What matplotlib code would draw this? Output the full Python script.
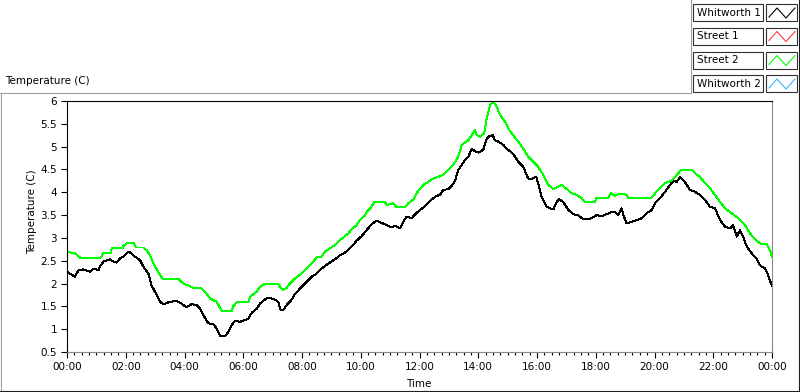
import numpy as np
import matplotlib.pyplot as plt
from matplotlib.patches import Rectangle
from matplotlib.ticker import MultipleLocator, FixedLocator, FixedFormatter, FormatStrFormatter

plt.rcParams['font.family'] = 'DejaVu Sans'

# legend entries
series_names = ['Whitworth 1', 'Street 1', 'Street 2', 'Whitworth 2']
series_colors = ['#000000', '#ff3a3a', '#00ff00', '#3ab4ff']

# Whitworth 1 (black): hours since midnight, temperature (C)
whit1_t = [0.00, 0.10, 0.27, 0.39, 0.56, 0.78, 0.90, 1.07, 1.12, 1.24, 1.46, 1.58, 1.69, 1.80,
           1.92, 2.09, 2.20, 2.31, 2.49, 2.60, 2.77, 2.88, 3.05, 3.17, 3.28, 3.51, 3.73, 3.90,
           4.07, 4.24, 4.41, 4.53, 4.64, 4.81, 4.98, 5.10, 5.21, 5.38, 5.49, 5.61, 5.72, 5.89,
           6.17, 6.29, 6.46, 6.57, 6.74, 6.85, 7.08, 7.19, 7.27, 7.36, 7.48, 7.65, 7.76, 7.99,
           8.16, 8.33, 8.50, 8.67, 8.90, 9.12, 9.29, 9.52, 9.69, 9.86, 10.03, 10.20, 10.37, 10.54,
           10.71, 10.88, 11.05, 11.17, 11.34, 11.45, 11.56, 11.73, 11.85, 12.02, 12.19, 12.36,
           12.53, 12.70, 12.81, 12.98, 13.10, 13.21, 13.32, 13.44, 13.55, 13.66, 13.78, 13.89,
           14.00, 14.17, 14.29, 14.40, 14.49, 14.57, 14.68, 14.85, 14.97, 15.14, 15.25, 15.36,
           15.53, 15.70, 15.82, 15.97, 16.04, 16.16, 16.33, 16.44, 16.56, 16.67, 16.76, 16.90,
           17.07, 17.24, 17.41, 17.58, 17.70, 17.86, 18.03, 18.20, 18.37, 18.54, 18.66, 18.77,
           18.88, 18.94, 19.05, 19.22, 19.39, 19.56, 19.73, 19.90, 20.02, 20.19, 20.36, 20.53,
           20.64, 20.76, 20.87, 20.98, 21.10, 21.21, 21.38, 21.55, 21.72, 21.89, 22.06, 22.23,
           22.40, 22.57, 22.68, 22.80, 22.91, 23.02, 23.14, 23.31, 23.48, 23.59, 23.76, 23.87,
           24.00]
whit1_v = [2.26, 2.22, 2.15, 2.29, 2.31, 2.26, 2.33, 2.29, 2.37, 2.48, 2.53, 2.48, 2.46, 2.55,
           2.59, 2.70, 2.66, 2.59, 2.51, 2.37, 2.22, 1.96, 1.75, 1.60, 1.55, 1.60, 1.62, 1.56,
           1.48, 1.55, 1.53, 1.45, 1.31, 1.13, 1.11, 1.01, 0.85, 0.85, 0.94, 1.09, 1.19, 1.16,
           1.23, 1.36, 1.45, 1.56, 1.65, 1.69, 1.65, 1.60, 1.43, 1.42, 1.53, 1.65, 1.77, 1.93,
           2.04, 2.15, 2.22, 2.33, 2.44, 2.53, 2.62, 2.70, 2.81, 2.94, 3.04, 3.17, 3.30, 3.38,
           3.33, 3.28, 3.23, 3.26, 3.21, 3.36, 3.47, 3.43, 3.52, 3.61, 3.70, 3.81,
           3.90, 3.95, 4.05, 4.07, 4.14, 4.25, 4.49, 4.60, 4.71, 4.78, 4.95, 4.90,
           4.87, 4.93, 5.18, 5.24, 5.25, 5.14, 5.11, 5.04, 4.95, 4.87, 4.78, 4.67,
           4.56, 4.30, 4.29, 4.34, 4.20, 3.90, 3.68, 3.65, 3.63, 3.79, 3.85, 3.78,
           3.61, 3.52, 3.49, 3.41, 3.41, 3.43, 3.50, 3.47, 3.52, 3.57, 3.57, 3.50,
           3.65, 3.50, 3.32, 3.35, 3.39, 3.43, 3.54, 3.61, 3.76, 3.87, 4.01, 4.16,
           4.25, 4.23, 4.33, 4.27, 4.16, 4.05, 4.01, 3.94, 3.83, 3.68, 3.65, 3.39,
           3.25, 3.21, 3.28, 3.03, 3.17, 3.03, 2.81, 2.66, 2.55, 2.40, 2.33, 2.18,
           1.94]

# Street 2 (green)
street2_t = [0.00, 0.27, 0.44, 1.15, 1.24, 1.50, 1.52, 1.90, 1.92, 2.03, 2.28, 2.35, 2.60, 2.71,
             2.83, 2.94, 3.07, 3.26, 3.79, 3.96, 4.19, 4.30, 4.50, 4.59, 4.70, 4.87, 5.10, 5.27,
             5.61, 5.66, 5.78, 6.17, 6.23, 6.46, 6.57, 6.74, 7.19, 7.25, 7.36, 7.48, 7.59, 7.76,
             7.99, 8.16, 8.33, 8.50, 8.67, 8.78, 8.95, 9.12, 9.29, 9.41, 9.58, 9.69, 9.86, 9.97,
             10.14, 10.20, 10.35, 10.46, 10.83, 10.88, 11.11, 11.22, 11.51, 11.62, 11.79, 11.90,
             12.13, 12.47, 12.81, 13.15, 13.32, 13.44, 13.66, 13.78, 13.89, 13.95, 14.06, 14.20,
             14.29, 14.40, 14.51, 14.63, 14.74, 14.91, 15.02, 15.19, 15.36, 15.53, 15.70, 15.87,
             16.04, 16.21, 16.39, 16.56, 16.84, 17.01, 17.18, 17.35, 17.52, 17.63, 17.97, 18.03,
             18.43, 18.52, 18.66, 18.77, 19.05, 19.11, 19.90, 20.02, 20.19, 20.36, 20.59, 20.76,
             20.90, 21.27, 21.38, 21.55, 21.72, 21.89, 22.06, 22.23, 22.40, 22.63, 22.85, 23.08,
             23.25, 23.42, 23.59, 23.82, 23.93, 24.00]
street2_v = [2.70, 2.66, 2.57, 2.57, 2.67, 2.67, 2.77, 2.77, 2.82, 2.88, 2.88, 2.79, 2.79, 2.73,
             2.62, 2.44, 2.29, 2.10, 2.10, 2.00, 1.94, 1.91, 1.91, 1.89, 1.82, 1.67, 1.60, 1.39,
             1.39, 1.50, 1.59, 1.59, 1.71, 1.82, 1.93, 1.99, 1.99, 1.93, 1.86, 1.91, 2.00, 2.11,
             2.22, 2.33, 2.44, 2.57, 2.59, 2.70, 2.77, 2.84, 2.95, 3.01, 3.10, 3.19, 3.28, 3.39,
             3.49, 3.57, 3.67, 3.78, 3.78, 3.72, 3.76, 3.67, 3.67, 3.76, 3.84, 3.98,
             4.16, 4.30, 4.38, 4.60, 4.78, 5.04, 5.14, 5.25, 5.36, 5.25, 5.22, 5.29,
             5.62, 5.91, 5.98, 5.88, 5.69, 5.55, 5.40, 5.25, 5.11, 4.96, 4.78, 4.67,
             4.56, 4.38, 4.16, 4.07, 4.16, 4.07, 3.98, 3.94, 3.87, 3.78, 3.79, 3.88,
             3.88, 3.98, 3.92, 3.96, 3.95, 3.88, 3.88, 3.98, 4.09, 4.20, 4.26, 4.38,
             4.49, 4.49, 4.42, 4.33, 4.20, 4.09, 3.94, 3.79, 3.65, 3.54, 3.43, 3.28,
             3.10, 2.97, 2.88, 2.86, 2.73, 2.59]

hour_ticks = [0, 2, 4, 6, 8, 10, 12, 14, 16, 18, 20, 22, 24]
hour_labels = ['00:00', '02:00', '04:00', '06:00', '08:00', '10:00', '12:00',
               '14:00', '16:00', '18:00', '20:00', '22:00', '00:00']

W, H = 800, 392
fs = 7.5
fig = plt.figure(figsize=(W / 100, H / 100), dpi=100)

# pixel-coordinate overlay for frame, title and legend
bg = fig.add_axes([0, 0, 1, 1])
bg.set_xlim(0, W)
bg.set_ylim(H, 0)
bg.axis('off')
bg.plot([0, 690], [92.5, 92.5], color='#a0a0a0', lw=0.8)
bg.plot([690.5, 690.5], [0, 92.5], color='#a0a0a0', lw=0.8)
bg.plot([1, 1], [92.5, H], color='#a0a0a0', lw=0.8)
bg.plot([0, W], [390.5, 390.5], color='#202020', lw=0.8)
bg.plot([798.5, 798.5], [0, H], color='#202020', lw=0.8)
bg.text(5, 81, 'Temperature (C)', fontsize=fs, ha='left', va='center')
bg.text(32, 212, 'Temperature (C)', fontsize=fs, rotation=90, ha='center', va='center')
bg.text(419, 384, 'Time', fontsize=fs, ha='center', va='center')

row_tops = [4, 27.5, 51.5, 75]
for name, col, top in zip(series_names, series_colors, row_tops):
    bg.add_patch(Rectangle((693, top), 70, 17, facecolor='white', edgecolor='#303030', lw=0.8))
    bg.text(697, top + 8.5, name, fontsize=fs, ha='left', va='center')
    bg.add_patch(Rectangle((766, top), 31, 17, facecolor='white', edgecolor='#303030', lw=0.8))
    bg.plot([769, 777, 786, 795], [top + 13, top + 4, top + 14, top + 4], color=col, lw=0.8)

# main plot
ax = fig.add_axes([67 / W, (H - 352) / H, 705 / W, 251 / H])
ax.plot(whit1_t, whit1_v, color=series_colors[0], lw=0.7, antialiased=False)
ax.plot(street2_t, street2_v, color=series_colors[2], lw=0.7, antialiased=False)
ax.set_xlim(0, 24)
ax.set_ylim(0.5, 6)

ax.xaxis.set_major_locator(FixedLocator(hour_ticks))
ax.xaxis.set_major_formatter(FixedFormatter(hour_labels))
ax.xaxis.set_minor_locator(MultipleLocator(0.25))
ax.yaxis.set_major_locator(MultipleLocator(0.5))
ax.yaxis.set_major_formatter(FormatStrFormatter('%g'))

ax.tick_params(axis='both', which='major', direction='out', length=4.5, width=0.8,
               labelsize=fs, pad=2.5)
ax.tick_params(axis='x', which='minor', direction='out', length=2.5, width=0.8)

ax.spines['left'].set_color('black')
ax.spines['top'].set_color('black')
ax.spines['right'].set_color('#8a8a8a')
ax.spines['bottom'].set_color('#8a8a8a')
for s in ax.spines.values():
    s.set_linewidth(0.8)

fig.savefig('out.png', dpi=100)
